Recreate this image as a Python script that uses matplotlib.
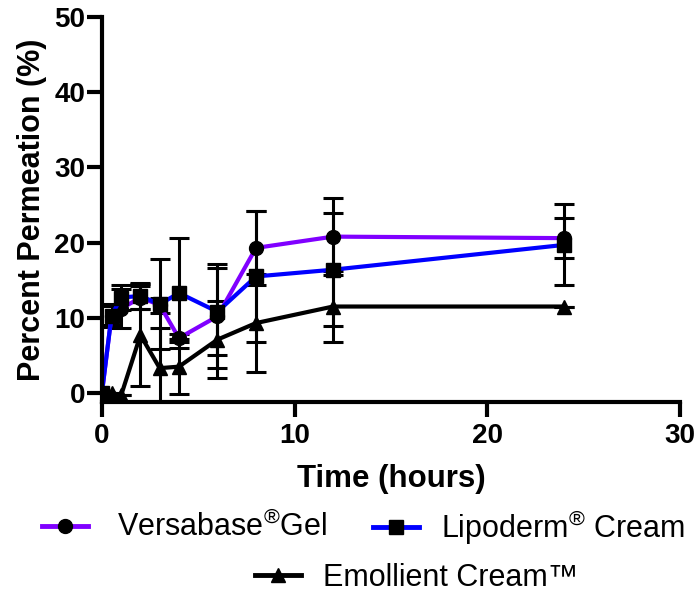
import matplotlib
matplotlib.use("Agg")
import matplotlib.pyplot as plt
from matplotlib.lines import Line2D

# data
time_h = [0, 0.5, 1, 2, 3, 4, 6, 8, 12, 24]

versa = [0, 10.3, 11.2, 12.7, 11.7, 7.3, 10.2, 19.3, 20.8, 20.6]
versa_err = [0, 1.5, 2.6, 1.5, 1.0, 0.5, 6.9, 4.9, 5.1, 2.7]

lipo = [0, 10.3, 12.7, 12.9, 11.8, 13.3, 10.8, 15.5, 16.4, 19.7]
lipo_err = [0, 1.3, 1.7, 1.7, 6.0, 7.3, 5.8, 8.7, 7.5, 5.4]

emol = [0, 0, -0.3, 7.7, 3.3, 3.5, 7.1, 9.3, 11.5, 11.5]
emol_err = [0, 0, 0, 6.8, 5.3, 3.7, 5.1, 6.5, 4.7, 0]

labels = ["Versabase$^{®}$Gel", "Lipoderm$^{®}$ Cream", "Emollient Cream\u2122"]
colors = ["#8000ff", "#0000ff", "#000000"]
markers = ["o", "s", "^"]

plt.rcParams['font.family'] = ['Liberation Sans', 'DejaVu Sans']
plt.rcParams['mathtext.fontset'] = 'custom'
plt.rcParams['mathtext.rm'] = 'Liberation Sans'
plt.rcParams['mathtext.it'] = 'Liberation Sans'

W, H = 698, 592
fig = plt.figure(figsize=(W / 100, H / 100), dpi=100)
ax = fig.add_axes([0.146, 0.321, 0.828, 0.650])

series = [(versa, versa_err), (lipo, lipo_err), (emol, emol_err)]
for (vals, errs), col, mk in zip(series, colors, markers):
    ax.errorbar(time_h, vals, yerr=errs, color=col, ecolor='black',
                elinewidth=2.2, capsize=7, capthick=2.2,
                marker=mk, markersize=10, markerfacecolor='black',
                markeredgecolor='black', linewidth=3)

ax.set_xlim(0, 30)
ax.set_ylim(-1.2, 50)
ax.set_xticks([0, 10, 20, 30])
ax.set_yticks([0, 10, 20, 30, 40, 50])

for s in ['top', 'right']:
    ax.spines[s].set_visible(False)
for s in ['left', 'bottom']:
    ax.spines[s].set_linewidth(3)
ax.tick_params(width=3, length=11, labelsize=20)
ax.tick_params(axis='y', pad=1)
ax.tick_params(axis='x', pad=4)
for lab in ax.get_xticklabels() + ax.get_yticklabels():
    lab.set_fontweight('bold')

ax.set_xlabel('Time (hours)', fontsize=22.5, fontweight='bold', labelpad=11)
ax.set_ylabel('Percent Permeation (%)', fontsize=22, fontweight='bold', labelpad=5)

# legend: one entry per legend so the rows can be placed like the original
legend_pos = [(42, 527, 0.95), (373, 527, 0.72), (255, 578, 0.72)]
for c, m, lab, (px, py, pad) in zip(colors, markers, labels, legend_pos):
    h = Line2D([0], [0], color=c, marker=m, markersize=10, linewidth=3.5,
               markerfacecolor='black', markeredgecolor='black')
    fig.legend([h], [lab], loc='center left',
               bbox_to_anchor=(px / W, 1 - py / H), frameon=False,
               fontsize=22, handlelength=1.5, handletextpad=pad,
               borderpad=0, borderaxespad=0)

fig.savefig('out.png', dpi=100)
